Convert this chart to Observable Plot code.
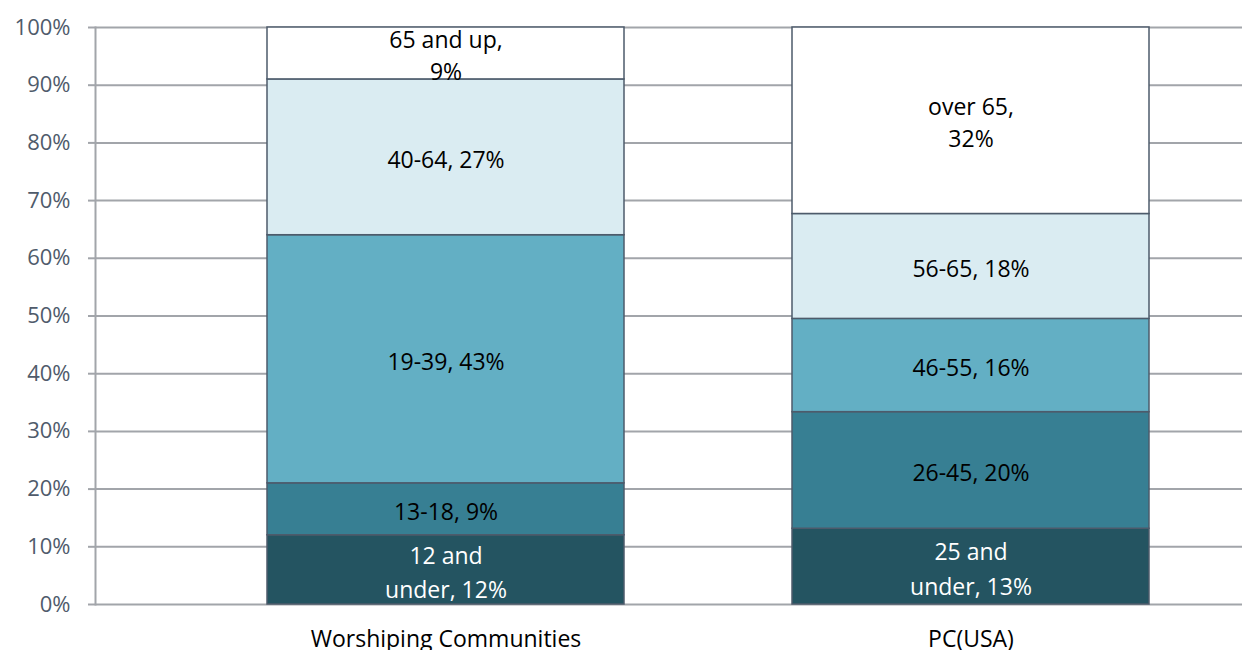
<!DOCTYPE html>
<html>
<head>
<meta charset="utf-8">
<script src="https://cdn.jsdelivr.net/npm/d3@7"></script>
<script src="https://cdn.jsdelivr.net/npm/@observablehq/plot@0.6"></script>
<style>
  html, body { margin: 0; padding: 0; background: #fff; }
  #chart { width: 1242px; height: 650px; overflow: hidden; }
</style>
</head>
<body>
<div id="chart"></div>
<script>
const groups = ["Worshiping Communities", "PC(USA)"];
const wcValues = [12, 9, 43, 27, 9];
const wcLabels = ["12 and\nunder, 12%", "13-18, 9%", "19-39, 43%", "40-64, 27%", "65 and up,\n9%"];
const pcValues = [13, 20, 16, 18, 32];
const pcLabels = ["25 and\nunder, 13%", "26-45, 20%", "46-55, 16%", "56-65, 18%", "over 65,\n32%"];
const yTicks = [0, 0.1, 0.2, 0.3, 0.4, 0.5, 0.6, 0.7, 0.8, 0.9, 1];
const segments = [0, 1, 2, 3, 4];
const palette = ["#245461", "#377f93", "#63afc4", "#daecf2", "#ffffff"];

const rows = [
  ...wcValues.map((v, i) => ({group: groups[0], seg: segments[i], value: v, label: wcLabels[i]})),
  ...pcValues.map((v, i) => ({group: groups[1], seg: segments[i], value: v, label: pcLabels[i]}))
];

const gridColor = "#a2a5aa";
const edgeColor = "#4d5b6b";
const stackOpts = {offset: "normalize"};

const chart = Plot.plot({
  width: 1242,
  height: 650,
  marginLeft: 95,
  marginRight: 0,
  marginTop: 27,
  marginBottom: 46,
  style: {fontFamily: "'Open Sans', sans-serif", fontSize: "23px", background: "#fff"},
  x: {type: "band", domain: groups, range: [182.75, 1233.75], paddingInner: 0.3206, paddingOuter: 0.1603, label: null},
  y: {domain: [0, 1], label: null},
  color: {type: "ordinal", domain: segments, range: palette},
  marks: [
    Plot.gridY({ticks: yTicks, stroke: gridColor, strokeOpacity: 1, strokeWidth: 2}),
    Plot.frame({anchor: "left", stroke: gridColor, strokeWidth: 2}),
    Plot.axisY({ticks: yTicks, tickFormat: d3.format(".0%"), tickSize: 7, tickPadding: 18,
      stroke: gridColor, strokeWidth: 2, fill: "#4f5b6b", fontSize: 22, label: null}),
    Plot.axisX({tickSize: 0, tickPadding: 26, fill: "#000", fontSize: 23, label: null}),
    Plot.barY(rows, Plot.stackY(stackOpts, {x: "group", y: "value", fill: "seg", stroke: edgeColor, strokeWidth: 1.5})),
    Plot.text(rows, Plot.stackY(stackOpts, {x: "group", y: "value",
      text: d => d.seg !== 0 ? d.label : null, fill: "#000", fontSize: 23, lineHeight: 1.4})),
    Plot.text(rows, Plot.stackY(stackOpts, {x: "group", y: "value",
      text: d => d.seg === 0 ? d.label : null, fill: "#fff", fontSize: 23, lineHeight: 1.5}))
  ]
});
document.getElementById("chart").appendChild(chart);
</script>
</body>
</html>
